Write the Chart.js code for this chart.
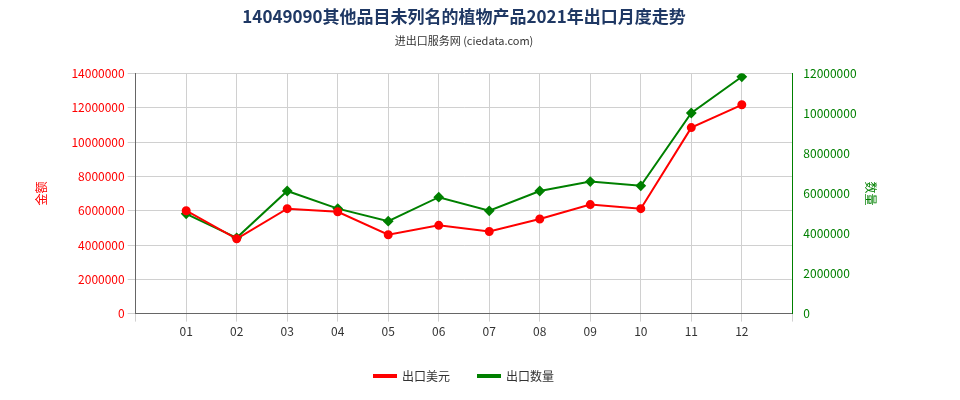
<!DOCTYPE html>
<html>
<head>
<meta charset="utf-8">
<script src="https://cdn.jsdelivr.net/npm/chart.js@4/dist/chart.umd.min.js"></script>
<style>
  body { margin: 0; background: #fff; }
  #wrap { width: 960px; height: 400px; }
</style>
</head>
<body>
<div id="wrap"><canvas id="c" width="960" height="400"></canvas></div>
<script>
const months = ['01', '02', '03', '04', '05', '06', '07', '08', '09', '10', '11', '12'];
const jinE = [6000000, 4360000, 6120000, 5940000, 4600000, 5150000, 4790000, 5520000, 6360000, 6120000, 10850000, 12180000];
const shuLiang = [4990000, 3790000, 6130000, 5250000, 4620000, 5820000, 5140000, 6130000, 6600000, 6390000, 10030000, 11840000];

const pts = arr => arr.map((v, i) => ({ x: i + 1, y: v }));
const font = { family: 'Noto Sans CJK SC, DejaVu Sans', size: 12 };

new Chart(document.getElementById('c'), {
    type: 'line',
    data: {
        datasets: [{
            label: '出口美元',
            data: pts(jinE),
            borderColor: '#ff0000',
            backgroundColor: '#ff0000',
            borderWidth: 2,
            pointRadius: 3.5,
            yAxisID: 'y'
        }, {
            label: '出口数量',
            data: pts(shuLiang),
            borderColor: '#008000',
            backgroundColor: '#008000',
            borderWidth: 2,
            pointStyle: 'rectRot',
            pointRadius: 4,
            yAxisID: 'y1'
        }]
    },
    options: {
        responsive: false,
        animation: false,
        layout: { padding: { left: 30, right: 62, top: 0, bottom: 8 } },
        plugins: {
            title: {
                display: true,
                text: '14049090其他品目未列名的植物产品2021年出口月度走势',
                color: '#1f3864',
                font: { family: font.family, size: 17, weight: 'bold' },
                padding: { top: 6, bottom: 8 }
            },
            subtitle: {
                display: true,
                text: '进出口服务网 (ciedata.com)',
                color: '#333',
                font: { family: font.family, size: 11 },
                padding: { bottom: 26 }
            },
            legend: {
                position: 'bottom',
                labels: { font: font, color: '#333', boxWidth: 22, boxHeight: 2, padding: 28 }
            },
            tooltip: { enabled: false }
        },
        scales: {
            x: {
                type: 'linear',
                min: 0,
                max: 13,
                ticks: {
                    stepSize: 1,
                    color: '#333',
                    font: font,
                    callback: v => (v >= 1 && v <= 12) ? months[v - 1] : ''
                },
                grid: { color: '#d0d0d0' },
                border: { color: '#666' }
            },
            y: {
                position: 'left',
                min: 0,
                max: 14000000,
                ticks: { stepSize: 2000000, color: '#ff0000', font: font, callback: v => String(v) },
                title: { display: true, text: '金额', color: '#ff0000', font: font, padding: { bottom: 20 } },
                grid: { color: '#d0d0d0' },
                border: { color: '#666' }
            },
            y1: {
                position: 'right',
                min: 0,
                max: 12000000,
                ticks: { stepSize: 2000000, color: '#008000', font: font, callback: v => String(v) },
                title: { display: true, text: '数量', color: '#008000', font: font, padding: { top: 20 } },
                grid: { display: false },
                border: { color: '#008000' }
            }
        }
    }
});
</script>
</body>
</html>
